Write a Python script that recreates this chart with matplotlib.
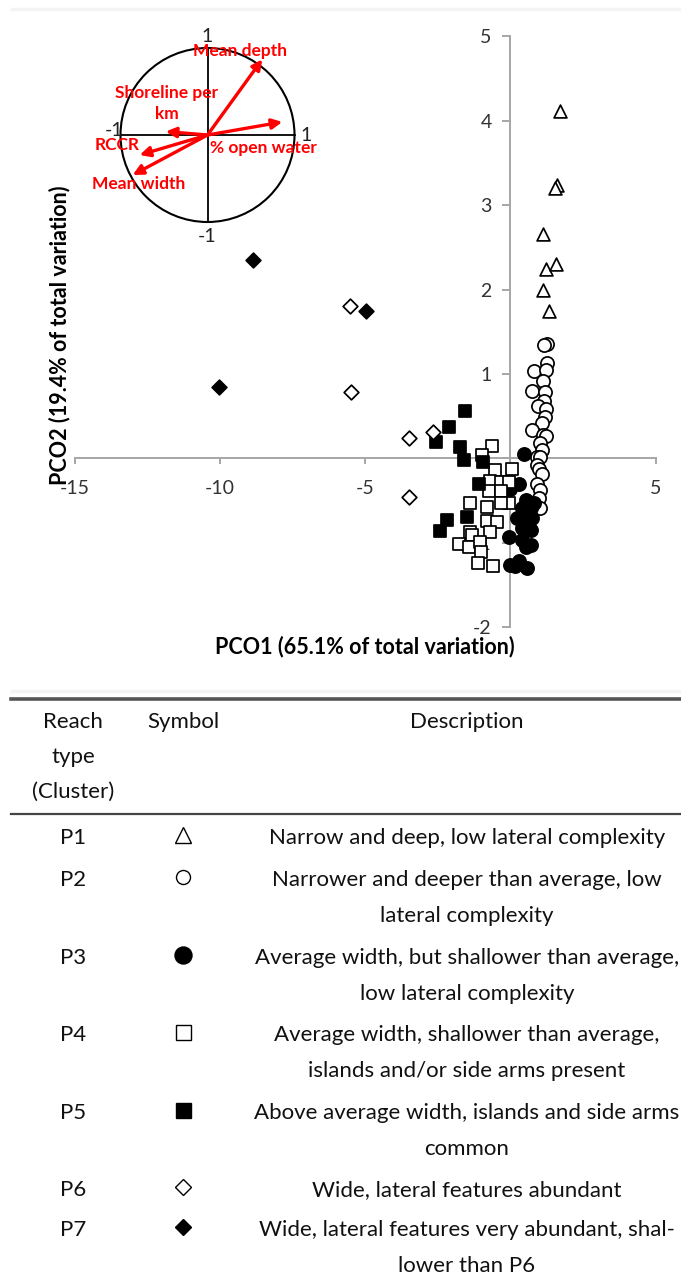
import numpy as np
import matplotlib.pyplot as plt
from matplotlib.patches import Circle

plt.rcParams['font.family'] = ['Lato', 'DejaVu Sans']

# PCO scores per reach type (cluster)
p1_x = [1.71, 1.60, 1.52, 1.11, 1.22, 1.58, 1.12, 1.33]
p1_y = [4.12, 3.24, 3.20, 2.66, 2.24, 2.30, 2.00, 1.75]

p2_x = [1.26, 1.15, 1.26, 0.80, 1.24, 1.13, 0.75, 1.20, 1.15, 0.94, 1.24, 1.20, 1.09,
        0.75, 1.13, 1.24, 1.03, 1.10, 0.92, 1.03, 0.92, 0.98, 1.09, 0.92, 1.03, 0.97,
        0.92, 1.03]
p2_y = [1.36, 1.34, 1.13, 1.03, 1.05, 0.92, 0.80, 0.79, 0.68, 0.62, 0.58, 0.49, 0.42,
        0.34, 0.28, 0.26, 0.18, 0.10, 0.02, 0.02, -0.08, -0.12, -0.18, -0.30, -0.37, -0.47,
        -0.57, -0.59]

p3_x = [0.46, 0.30, 0.00, 0.52, 0.80, 0.40, 0.69, 0.57, 0.23, 0.52, 0.75, 0.40, 0.69,
        -0.06, 0.40, 0.69, 0.52, 0.00, 0.17, 0.29, 0.57]
p3_y = [0.05, -0.30, -0.36, -0.49, -0.53, -0.59, -0.59, -0.67, -0.71, -0.73, -0.71, -0.83,
        -0.85, -0.93, -0.97, -1.03, -1.05, -1.26, -1.28, -1.22, -1.30]

p4_x = [-0.63, -0.98, -0.55, 0.06, -0.69, -0.34, -0.06, -0.75, -0.34, -0.06, -0.34, -1.40,
        -0.80, -0.80, -0.48, -1.40, -0.71, -1.32, -1.78, -1.44, -1.06, -1.03, -1.13, -0.60]
p4_y = [0.15, 0.04, -0.14, -0.12, -0.27, -0.28, -0.28, -0.39, -0.39, -0.53, -0.53, -0.53,
        -0.58, -0.74, -0.75, -0.87, -0.87, -0.91, -1.01, -1.05, -0.99, -1.11, -1.24, -1.27]

p5_x = [-1.55, -2.12, -2.58, -1.75, -1.61, -0.94, -1.09, -1.49, -2.20, -2.43]
p5_y = [0.56, 0.37, 0.20, 0.14, -0.02, -0.04, -0.30, -0.69, -0.73, -0.86]

p6_x = [-5.54, -5.48, -3.50, -2.66, -3.50]
p6_y = [1.80, 0.79, 0.24, 0.31, -0.46]

p7_x = [-8.87, -10.04, -4.97]
p7_y = [2.35, 0.85, 1.75]

# variable vectors (correlations with PCO1 / PCO2)
vec_names = ['Mean depth', '% open water', 'Shoreline per\nkm', 'RCCR', 'Mean width']
vec_x = [0.63, 0.86, -0.48, -0.78, -0.86]
vec_y = [0.87, 0.15, 0.04, -0.23, -0.46]
vec_label_x = [0.37, 0.64, -0.47, -1.04, -0.79]
vec_label_y = [0.96, -0.15, 0.36, -0.11, -0.56]

# legend table
clusters = ['P1', 'P2', 'P3', 'P4', 'P5', 'P6', 'P7']
descriptions = [
    ['Narrow and deep, low lateral complexity'],
    ['Narrower and deeper than average, low', 'lateral complexity'],
    ['Average width, but shallower than average,', 'low lateral complexity'],
    ['Average width, shallower than average,', 'islands and/or side arms present'],
    ['Above average width, islands and side arms', 'common'],
    ['Wide, lateral features abundant'],
    ['Wide, lateral features very abundant, shal-', 'lower than P6'],
]

W, H = 681, 1286
fig = plt.figure(figsize=(W / 100, H / 100), dpi=100)

# background layer in pixel units (table + rules)
bg = fig.add_axes([0, 0, 1, 1])
bg.set_xlim(0, W)
bg.set_ylim(H, 0)
bg.axis('off')
bg.plot([12, W], [9, 9], color='#f3f3f3', lw=2.5)
bg.plot([12, W], [691, 691], color='#f3f3f3', lw=2.5)

# ---- scatter plot ----
x0, x1 = 74.8, 655.7
y0, y1 = 36.4, 627.2
ax = fig.add_axes([x0 / W, 1 - y1 / H, (x1 - x0) / W, (y1 - y0) / H])
ax.set_xlim(-15, 5)
ax.set_ylim(-2, 5)
ax.patch.set_alpha(0)
for s in ['top', 'right']:
    ax.spines[s].set_visible(False)
ax.spines['left'].set_position(('data', 0))
ax.spines['bottom'].set_position(('data', 0))
for s in ['left', 'bottom']:
    ax.spines[s].set_color('#a6a6a6')
    ax.spines[s].set_linewidth(1.4)
ax.set_xticks([-15, -10, -5, 0, 5])
ax.set_xticklabels(['-15', '-10', '-5', '', '5'])
ax.set_yticks([-2, -1, 0, 1, 2, 3, 4, 5])
ax.set_yticklabels(['-2', '-1', '', '1', '2', '3', '4', '5'])
ax.tick_params(axis='x', direction='out', length=4.5, width=1.4, color='#a6a6a6',
               pad=11, labelsize=14, labelcolor='#333333')
ax.tick_params(axis='y', direction='out', length=5.5, width=1.4, color='#a6a6a6',
               pad=8, labelsize=14, labelcolor='#333333')

mk = dict(edgecolors='black', linewidths=1.25, zorder=3)
ax.scatter(p1_x, p1_y, marker='^', s=85, facecolors='white', **mk)
ax.scatter(p2_x, p2_y, marker='o', s=90, facecolors='white', **mk)
ax.scatter(p3_x, p3_y, marker='o', s=90, facecolors='black', **mk)
ax.scatter(p4_x, p4_y, marker='s', s=66, facecolors='white', **mk)
ax.scatter(p5_x, p5_y, marker='s', s=66, facecolors='black', **mk)
ax.scatter(p6_x, p6_y, marker='D', s=56, facecolors='white', **mk)
ax.scatter(p7_x, p7_y, marker='D', s=56, facecolors='black', **mk)

ax.set_xlabel('PCO1 (65.1% of total variation)', fontsize=15.5, fontweight='bold')
ax.set_ylabel('PCO2 (19.4% of total variation)', fontsize=15.5, fontweight='bold')
ax.xaxis.label.set_va('center')
ax.xaxis.set_label_coords((365 - x0) / (x1 - x0), (y1 - 647) / (y1 - y0))
ax.yaxis.label.set_va('center')
ax.yaxis.set_label_coords((60 - x0) / (x1 - x0), (y1 - 335) / (y1 - y0))

# ---- vector inset ----
cx, cy, r = 207.5, 135, 87
ins = fig.add_axes([(cx - r) / W, 1 - (cy + r) / H, 2 * r / W, 2 * r / H])
ins.set_xlim(-1, 1)
ins.set_ylim(-1, 1)
ins.axis('off')
ins.add_patch(Circle((0, 0), 1, fill=False, ec='black', lw=1.5, clip_on=False))
ins.plot([-1, 1], [0, 0], color='black', lw=1.3, clip_on=False)
ins.plot([0, 0], [-1, 1], color='black', lw=1.3, clip_on=False)
for tx, ty, t in [(0, 1.13, '1'), (0, -1.17, '-1'), (-1.07, 0.05, '-1'), (1.13, -0.01, '1')]:
    ins.text(tx, ty, t, ha='center', va='center', fontsize=14, color='#222222')
for vx, vy in zip(vec_x, vec_y):
    ins.annotate('', xy=(vx, vy), xytext=(0, 0),
                 arrowprops=dict(arrowstyle='-|>', color='red', lw=2.4, mutation_scale=15,
                                 shrinkA=0, shrinkB=0))
for name, lx, ly in zip(vec_names, vec_label_x, vec_label_y):
    ins.text(lx, ly, name, ha='center', va='center', color='red', fontsize=12.5,
             fontweight='bold', linespacing=1.35)

# ---- legend table ----
bg.plot([11, W], [699, 699], color='#555555', lw=2.6)
bg.plot([11, W], [814, 814], color='#444444', lw=1.6)
txt = dict(ha='center', va='center', fontsize=16, color='#111111')
for t, yy in [('Reach', 722), ('type', 757), ('(Cluster)', 792)]:
    bg.text(73, yy, t, **txt)
bg.text(183, 722, 'Symbol', **txt)
bg.text(467, 722, 'Description', **txt)

row_y = [838, 880, 958, 1035, 1113, 1190, 1230]
sym_marker = ['^', 'o', 'o', 's', 's', 'D', 'D']
sym_fill = ['white', 'white', 'black', 'white', 'black', 'white', 'black']
sym_size = [16, 14, 17, 15, 15, 12, 12]
for cl, lines, yy, m, fc, ms in zip(clusters, descriptions, row_y, sym_marker, sym_fill, sym_size):
    bg.text(73, yy, cl, **txt)
    bg.plot([183], [yy - 3], marker=m, ms=ms * 0.72, mfc=fc, mec='black', mew=1.0)
    for i, line in enumerate(lines):
        bg.text(467, yy + 36 * i, line, **txt)

fig.savefig('out.png', dpi=100)
